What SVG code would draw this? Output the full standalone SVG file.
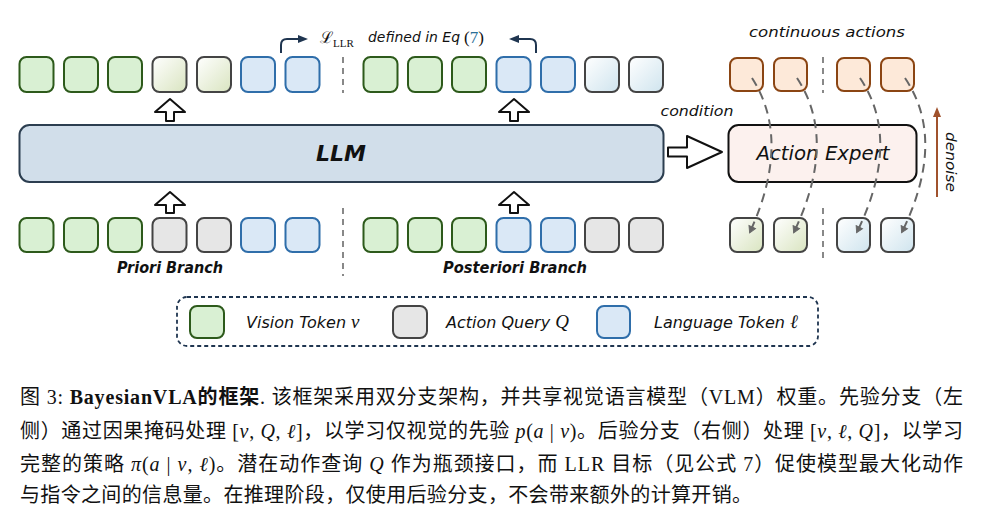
<svg xmlns="http://www.w3.org/2000/svg" width="983" height="519" viewBox="0 0 983 519">
<defs>
<linearGradient id="gGreen" x1="0" y1="0" x2="1" y2="1"><stop offset="0" stop-color="#ffffff"/><stop offset="1" stop-color="#d9e4c0"/></linearGradient>
<linearGradient id="gBlue" x1="0" y1="0" x2="1" y2="1"><stop offset="0" stop-color="#ffffff"/><stop offset="1" stop-color="#cfe4ee"/></linearGradient>
<marker id="mOpen" viewBox="0 0 10 10" refX="7" refY="5" markerWidth="9" markerHeight="9" markerUnits="userSpaceOnUse" orient="auto"><path d="M1,1 L8,5 L1,9 Z" fill="#666" stroke="#666" stroke-width="1"/></marker>
<marker id="mNavy" viewBox="0 0 10 10" refX="5" refY="5" markerWidth="10" markerHeight="10" markerUnits="userSpaceOnUse" orient="auto"><path d="M0,1 L10,5 L0,9 Z" fill="#1f3550"/></marker>
<marker id="mBrown" viewBox="0 0 10 10" refX="5" refY="5" markerWidth="10" markerHeight="10" markerUnits="userSpaceOnUse" orient="auto"><path d="M0,1 L10,5 L0,9 Z" fill="#a0522d"/></marker>
</defs>
<style>
.tok{stroke-width:2;rx:7;ry:7}
.g{fill:#d9f0d3;stroke:#2d5a1b}
.q{fill:#e6e6e6;stroke:#444}
.b{fill:#dae8f6;stroke:#2f6eaa}
.o{fill:#fde9d9;stroke:#8b4513}
.gg{fill:url(#gGreen);stroke:#444}
.bg{fill:url(#gBlue);stroke:#444}
.sep{stroke:#888;stroke-width:2;stroke-dasharray:6 5;fill:none}
.blk{fill:#fff;stroke:#111;stroke-width:2;stroke-linejoin:round}
.hw{font-family:"DejaVu Sans","Liberation Sans",sans-serif;font-style:italic;fill:#111}
.m{font-family:"Liberation Serif",serif;font-size:19px}
.cap{font-family:"Liberation Serif","Noto Sans CJK SC",serif;font-size:20px;fill:#111}
.it{font-style:italic}
.curve{fill:none;stroke:#666;stroke-width:2;stroke-dasharray:9 6}
</style>

<g id="top-priori">
<rect class="tok g" x="19.5" y="57" width="34" height="35"/>
<rect class="tok g" x="64" y="57" width="34" height="35"/>
<rect class="tok g" x="108" y="57" width="34" height="35"/>
<rect class="tok gg" x="152.5" y="57" width="34" height="35"/>
<rect class="tok gg" x="197" y="57" width="34" height="35"/>
<rect class="tok b" x="241" y="57" width="34" height="35"/>
<rect class="tok b" x="285.5" y="57" width="34" height="35"/>
</g>
<g id="top-posteriori">
<rect class="tok g" x="363.5" y="57" width="34" height="35"/>
<rect class="tok g" x="408" y="57" width="34" height="35"/>
<rect class="tok g" x="452" y="57" width="34" height="35"/>
<rect class="tok b" x="496.5" y="57" width="34" height="35"/>
<rect class="tok b" x="541" y="57" width="34" height="35"/>
<rect class="tok bg" x="585" y="57" width="34" height="35"/>
<rect class="tok bg" x="629" y="57" width="34" height="35"/>
</g>
<g id="bottom-priori">
<rect class="tok g" x="19.5" y="218" width="34" height="34"/>
<rect class="tok g" x="64" y="218" width="34" height="34"/>
<rect class="tok g" x="108" y="218" width="34" height="34"/>
<rect class="tok q" x="152.5" y="218" width="34" height="34"/>
<rect class="tok q" x="197" y="218" width="34" height="34"/>
<rect class="tok b" x="241" y="218" width="34" height="34"/>
<rect class="tok b" x="285.5" y="218" width="34" height="34"/>
<text class="hw" x="170" y="273" font-size="15" text-anchor="middle" textLength="106" lengthAdjust="spacingAndGlyphs" font-weight="bold">Priori Branch</text>
</g>
<g id="bottom-posteriori">
<rect class="tok g" x="363.5" y="218" width="34" height="34"/>
<rect class="tok g" x="408" y="218" width="34" height="34"/>
<rect class="tok g" x="452" y="218" width="34" height="34"/>
<rect class="tok b" x="496.5" y="218" width="34" height="34"/>
<rect class="tok b" x="541" y="218" width="34" height="34"/>
<rect class="tok q" x="585" y="218" width="34" height="34"/>
<rect class="tok q" x="629" y="218" width="34" height="34"/>
<text class="hw" x="515" y="273" font-size="15" text-anchor="middle" textLength="144" lengthAdjust="spacingAndGlyphs" font-weight="bold">Posteriori Branch</text>
</g>

<g id="llm">
<rect x="19.5" y="125" width="644" height="57" rx="10" fill="#d1deea" stroke="#2c3e50" stroke-width="2"/>
<text class="hw" x="341" y="161" font-size="22" font-weight="bold" text-anchor="middle" textLength="50" lengthAdjust="spacingAndGlyphs">LLM</text>
</g>

<g id="llr-label">
<text x="320" y="43" font-family="DejaVu Serif,serif" font-size="16" fill="#111">ℒ</text>
<text x="333" y="47" font-family="Liberation Serif,serif" font-size="11" fill="#111">LLR</text>
<text class="hw" x="368" y="42" font-size="14" textLength="92" lengthAdjust="spacingAndGlyphs">defined in Eq</text>
<text x="464" y="43" font-family="Liberation Serif,serif" font-size="17" fill="#111">(<tspan fill="#2a6f97">7</tspan>)</text>
</g>

<g id="condition-label">
<text class="hw" x="697" y="116" font-size="14" text-anchor="middle" textLength="73" lengthAdjust="spacingAndGlyphs">condition</text>
</g>

<g id="action-expert">
<rect x="728.5" y="125" width="188" height="57" rx="10" fill="#fcf1ee" stroke="#111" stroke-width="2"/>
<text class="hw" x="823" y="160" font-size="19" text-anchor="middle" textLength="133" lengthAdjust="spacingAndGlyphs">Action Expert</text>
</g>

<g id="continuous-actions">
<text class="hw" x="827" y="37" font-size="14" text-anchor="middle" textLength="156" lengthAdjust="spacingAndGlyphs">continuous actions</text>
<rect class="tok o" x="730" y="58" width="33" height="33"/>
<rect class="tok o" x="774" y="58" width="33" height="33"/>
<rect class="tok o" x="837" y="58" width="33" height="33"/>
<rect class="tok o" x="881" y="58" width="33" height="33"/>
</g>
<g id="noisy-actions">
<rect class="tok gg" x="730" y="218" width="33" height="34"/>
<rect class="tok gg" x="774" y="218" width="33" height="34"/>
<rect class="tok bg" x="837" y="218" width="33" height="34"/>
<rect class="tok bg" x="881" y="218" width="33" height="34"/>
</g>
<g id="denoise-label">
<text class="hw" transform="translate(946,162) rotate(90)" font-size="14" text-anchor="middle" textLength="60" lengthAdjust="spacingAndGlyphs">denoise</text>
</g>

<g id="legend">
<rect x="177" y="297" width="641" height="49" rx="10" fill="none" stroke="#1f3550" stroke-width="1.8" stroke-dasharray="4 3"/>
<rect class="tok g" x="190" y="306" width="34" height="32"/>
<text class="hw" x="246" y="328" font-size="16">Vision Token <tspan class="m">v</tspan></text>
<rect class="tok q" x="393" y="306" width="34" height="32"/>
<text class="hw" x="446" y="328" font-size="16">Action Query <tspan class="m">Q</tspan></text>
<rect class="tok b" x="597" y="306" width="33" height="32"/>
<text class="hw" x="654" y="328" font-size="16">Language Token <tspan class="m">ℓ</tspan></text>
</g>

<g id="caption">
<text class="cap" x="20" y="404" textLength="943" lengthAdjust="spacing">图 3: <tspan font-weight="bold">BayesianVLA的框架</tspan>. 该框架采用双分支架构，并共享视觉语言模型（VLM）权重。先验分支（左</text>
<text class="cap" x="20" y="438" textLength="943" lengthAdjust="spacing">侧）通过因果掩码处理 [<tspan class="it">v</tspan>, <tspan class="it">Q</tspan>, <tspan class="it">ℓ</tspan>]，以学习仅视觉的先验 <tspan class="it">p</tspan>(<tspan class="it">a</tspan> | <tspan class="it">v</tspan>)。后验分支（右侧）处理 [<tspan class="it">v</tspan>, <tspan class="it">ℓ</tspan>, <tspan class="it">Q</tspan>]，以学习</text>
<text class="cap" x="20" y="471" textLength="943" lengthAdjust="spacing">完整的策略 <tspan class="it">π</tspan>(<tspan class="it">a</tspan> | <tspan class="it">v</tspan>, <tspan class="it">ℓ</tspan>)。潜在动作查询 <tspan class="it">Q</tspan> 作为瓶颈接口，而 LLR 目标（见公式 7）促使模型最大化动作</text>
<text class="cap" x="20" y="502" textLength="732" lengthAdjust="spacing">与指令之间的信息量。在推理阶段，仅使用后验分支，不会带来额外的计算开销。</text>
</g>

<g id="connectors">
<path class="blk" d="M170,99 L185,112 L174,112 L174,121 L166,121 L166,112 L155,112 Z"/>
<path class="blk" d="M514,99 L529,112 L518,112 L518,121 L510,121 L510,112 L499,112 Z"/>
<path class="blk" d="M170,192 L185,205 L174,205 L174,213 L166,213 L166,205 L155,205 Z"/>
<path class="blk" d="M514,192 L529,205 L518,205 L518,213 L510,213 L510,205 L499,205 Z"/>
<path class="blk" d="M722,152 L687,136 L687,147.5 L668,147.5 L668,156.5 L687,156.5 L687,168 Z"/>
<path d="M281,53 L281,45 Q281,39 287,39 L303,39" fill="none" stroke="#1f3550" stroke-width="2" marker-end="url(#mNavy)"/>
<path d="M536,53 L536,45 Q536,39 530,39 L514,39" fill="none" stroke="#1f3550" stroke-width="2" marker-end="url(#mNavy)"/>
<path class="curve" d="M752,78 Q792,140 750,232" marker-end="url(#mOpen)"/>
<path class="curve" d="M797,78 Q838,140 794,232" marker-end="url(#mOpen)"/>
<path class="curve" d="M860,78 Q902,140 857,232" marker-end="url(#mOpen)"/>
<path class="curve" d="M905,78 Q947,140 902,232" marker-end="url(#mOpen)"/>
<path d="M937,197 L937,112" stroke="#a0522d" stroke-width="2" fill="none" marker-end="url(#mBrown)"/>
<line class="sep" x1="343" y1="57" x2="343" y2="93"/>
<line class="sep" x1="343" y1="208" x2="343" y2="276"/>
<line class="sep" x1="823" y1="57" x2="823" y2="93"/>
<line class="sep" x1="823" y1="208" x2="823" y2="258"/>
</g>
</svg>
